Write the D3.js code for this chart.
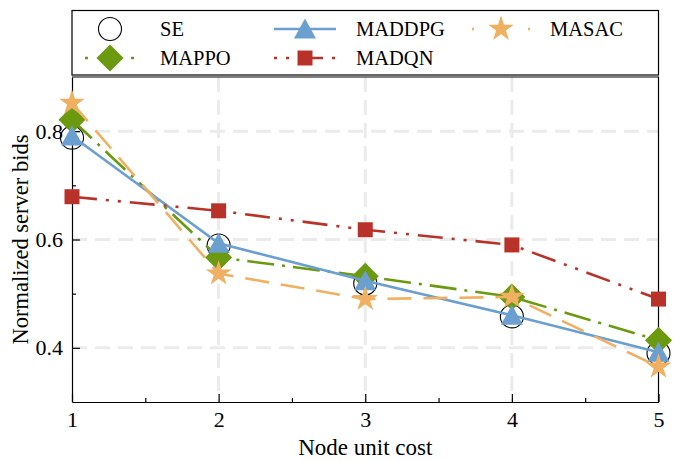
<!DOCTYPE html>
<html>
<head>
<meta charset="utf-8">
<script src="https://cdn.jsdelivr.net/npm/d3@7"></script>
<style>
  body { margin: 0; background: #fff; }
  svg { display: block; font-family: "Liberation Serif", "Times New Roman", serif; }
</style>
</head>
<body>
<svg id="chart" width="675" height="461"></svg>
<script>
// data
const nodeCosts = [1, 2, 3, 4, 5];
const seBids     = [0.788, 0.589, 0.519, 0.458, 0.390];
const mappoBids  = [0.821, 0.567, 0.532, 0.494, 0.414];
const maddpgBids = [0.791, 0.593, 0.524, 0.460, 0.392];
const madqnBids  = [0.679, 0.653, 0.618, 0.590, 0.490];
const masacBids  = [0.852, 0.537, 0.490, 0.494, 0.365];
const yTicks = [0.4, 0.6, 0.8];
const yMinor = [0.5, 0.7];
const xTicks = [1, 2, 3, 4, 5];
const xMinor = [1.5, 2.5, 3.5, 4.5];

const series = [
  { name: "SE", values: seBids, marker: "circle", color: "#000", dash: null, col: 0, row: 0 },
  { name: "MAPPO", values: mappoBids, marker: "diamond", color: "#6b990f", dash: "27,8,3,8", col: 0, row: 1, legendDash: "3,43", legendOffset: 0 },
  { name: "MADDPG", values: maddpgBids, marker: "triangle", color: "#6a9fd0", dash: "", col: 1, row: 0, legendDash: "", legendOffset: 0 },
  { name: "MADQN", values: madqnBids, marker: "square", color: "#b8322a", dash: "25,9,3,9,3,9", col: 1, row: 1, legendDash: "25,9,3,9,3,9", legendOffset: 34 },
  { name: "MASAC", values: masacBids, marker: "star", color: "#f0b062", dash: "24,12", col: 2, row: 0, legendDash: "2,54", legendOffset: 0 }
];

const width = 675, height = 461;
const margin = { top: 77, right: 17, bottom: 59, left: 72 };

const svg = d3.select("#chart");

const x = d3.scaleLinear().domain([1, 5]).range([margin.left, width - margin.right + 0.5]);
const y = d3.scaleLinear().domain([0.3, 0.9]).range([height - margin.bottom, margin.top]);

// grid
const grid = svg.append("g")
  .attr("stroke", "#ebebeb")
  .attr("stroke-width", 3)
  .attr("stroke-dasharray", "15,8");
grid.selectAll(".gy").data(yTicks).join("line")
  .attr("x1", x(1)).attr("x2", x(5))
  .attr("y1", d => y(d)).attr("y2", d => y(d));
grid.selectAll(".gx").data(xTicks.slice(1, -1)).join("line")
  .attr("x1", d => x(d)).attr("x2", d => x(d))
  .attr("y1", y(0.9)).attr("y2", y(0.3));

// axes
const xAxis = g => g
  .attr("transform", `translate(0,${y(0.3)})`)
  .call(d3.axisBottom(x).tickValues(xTicks).tickFormat(d3.format("d"))
    .tickSizeInner(-8).tickSizeOuter(0).tickPadding(9))
  .call(g => g.selectAll("text").attr("font-size", 22).attr("fill", "#000"));

const xMinorAxis = g => g
  .attr("transform", `translate(0,${y(0.3)})`)
  .call(d3.axisBottom(x).tickValues(xMinor).tickFormat("").tickSizeInner(-4).tickSizeOuter(0))
  .call(g => g.select(".domain").remove());

const yAxis = g => g
  .attr("transform", `translate(${x(1)},0)`)
  .call(d3.axisLeft(y).tickValues(yTicks).tickFormat(d3.format(".1f"))
    .tickSizeInner(-8).tickSizeOuter(0).tickPadding(9))
  .call(g => g.selectAll("text").attr("font-size", 22).attr("fill", "#000"));

const yMinorAxis = g => g
  .attr("transform", `translate(${x(1)},0)`)
  .call(d3.axisLeft(y).tickValues(yMinor).tickFormat("").tickSizeInner(-4).tickSizeOuter(0))
  .call(g => g.select(".domain").remove());

svg.append("g").call(xAxis);
svg.append("g").call(xMinorAxis);
svg.append("g").call(yAxis);
svg.append("g").call(yMinorAxis);
svg.selectAll(".domain, .tick line").attr("stroke", "#000").attr("stroke-width", 1.2);
svg.selectAll(".tick text").attr("font-family", "Liberation Serif");

// frame right + top
svg.append("path")
  .attr("d", `M${x(1)},${y(0.9)}H${x(5)}V${y(0.3)}`)
  .attr("fill", "none").attr("stroke", "#000").attr("stroke-width", 1.2);

// marker shapes
function markerPath(type) {
  switch (type) {
    case "circle": return d3.arc()({ innerRadius: 0, outerRadius: 11.5, startAngle: 0, endAngle: 2 * Math.PI });
    case "diamond": return "M0,-13.5L13.5,0L0,13.5L-13.5,0Z";
    case "triangle": return "M0,-10.5L11,9.5L-11,9.5Z";
    case "square": return "M-7.5,-7.5H7.5V7.5H-7.5Z";
    case "star": {
      const R = 13.5, r = R * 0.382, pts = [];
      for (let i = 0; i < 10; i++) {
        const a = -Math.PI / 2 + i * Math.PI / 5;
        const rad = i % 2 ? r : R;
        pts.push([rad * Math.cos(a), rad * Math.sin(a)]);
      }
      return "M" + pts.map(p => p.join(",")).join("L") + "Z";
    }
  }
}

function drawMarker(g, s) {
  if (s.marker === "circle") {
    g.attr("fill", "none").attr("stroke", "#000").attr("stroke-width", 1.1);
  } else {
    g.attr("fill", s.color);
  }
  return g;
}

const line = d3.line().x((d, i) => x(nodeCosts[i])).y(d => y(d));

series.forEach(s => {
  const g = svg.append("g");
  if (s.dash !== null) {
    g.append("path")
      .attr("d", line(s.values))
      .attr("fill", "none")
      .attr("stroke", s.color)
      .attr("stroke-width", 2.6)
      .attr("stroke-dasharray", s.dash || null);
  }
  g.selectAll(".m").data(s.values).join("path")
    .attr("d", markerPath(s.marker))
    .attr("transform", (d, i) => `translate(${x(nodeCosts[i])},${y(d)})`)
    .call(drawMarker, s);
});

// axis titles
svg.append("text")
  .attr("x", (x(1) + x(5)) / 2).attr("y", 455)
  .attr("text-anchor", "middle").attr("font-size", 23)
  .text("Node unit cost");
svg.append("text")
  .attr("transform", `translate(28,${(y(0.3) + y(0.9)) / 2}) rotate(-90)`)
  .attr("text-anchor", "middle").attr("font-size", 22.5)
  .text("Normalized server bids");

// legend
const legendCols = [
  { marker: 110, lineFrom: 85, lineTo: 136, text: 160 },
  { marker: 305, lineFrom: 274, lineTo: 336, text: 356 },
  { marker: 501, lineFrom: 472, lineTo: 531, text: 550 }
];
const legendRows = [29, 58];

const legend = svg.append("g");
legend.append("rect")
  .attr("x", x(1)).attr("y", 10.5)
  .attr("width", x(5) - x(1)).attr("height", 64.5)
  .attr("fill", "#fff").attr("stroke", "#000").attr("stroke-width", 1.2);

series.forEach(s => {
  const c = legendCols[s.col], ry = legendRows[s.row];
  const g = legend.append("g");
  if (s.dash !== null) {
    g.append("line")
      .attr("x1", c.lineFrom).attr("x2", c.lineTo)
      .attr("y1", ry).attr("y2", ry)
      .attr("stroke", s.color).attr("stroke-width", 2.6)
      .attr("stroke-dasharray", s.legendDash || null)
      .attr("stroke-dashoffset", s.legendOffset || 0);
  }
  g.append("path")
    .attr("d", markerPath(s.marker))
    .attr("transform", `translate(${c.marker},${ry})`)
    .call(drawMarker, s);
  g.append("text")
    .attr("x", c.text).attr("y", ry + 6.5)
    .attr("font-size", 20.5)
    .text(s.name);
});
</script>
</body>
</html>
